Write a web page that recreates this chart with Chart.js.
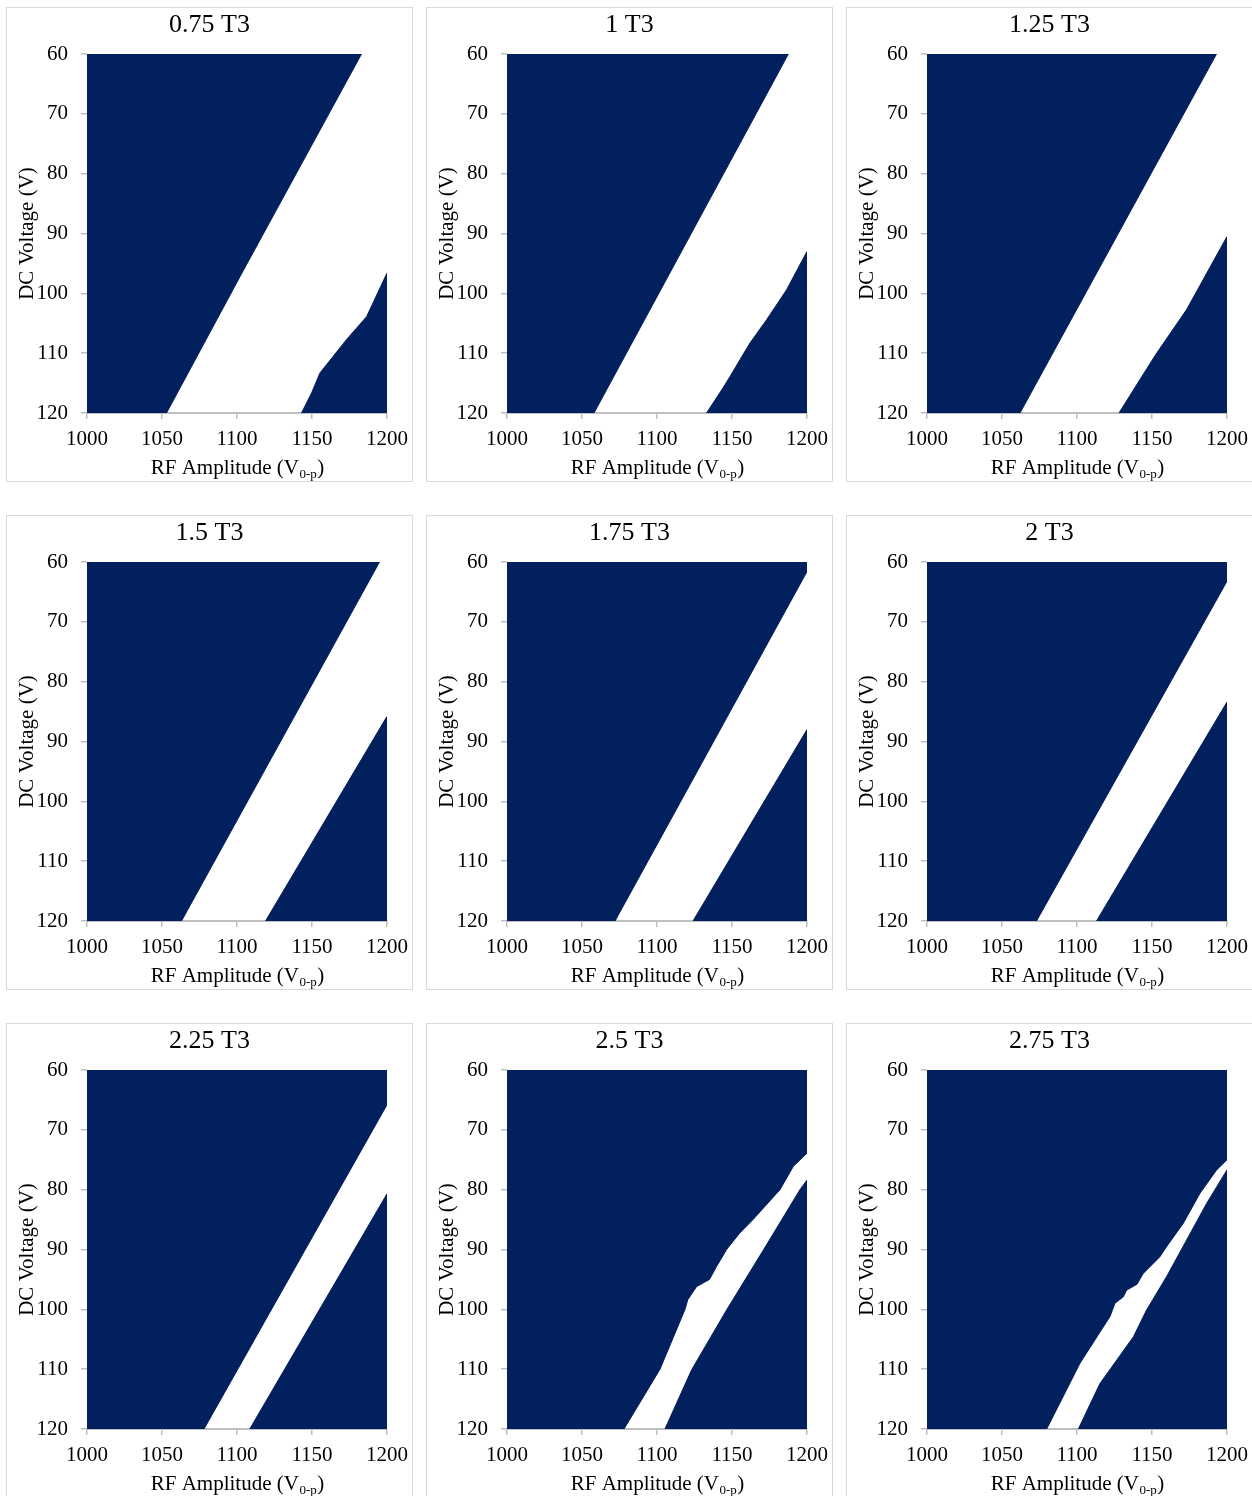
<!DOCTYPE html>
<html>
<head>
<meta charset="utf-8">
<script src="https://cdn.jsdelivr.net/npm/chart.js@4/dist/chart.umd.min.js"></script>
<style>
html,body{margin:0;padding:0;background:#fff;}
body{width:1252px;height:1496px;position:relative;overflow:hidden;}
.panel{position:absolute;width:405px;height:473px;outline:1px solid #d9d9d9;background:#fff;}
canvas{display:block;}
</style>
</head>
<body>
<script>
// ---------- data ----------
const panelTitles = ['0.75 T3','1 T3','1.25 T3','1.5 T3','1.75 T3','2 T3','2.25 T3','2.5 T3','2.75 T3'];
const xTickValues = [1000, 1050, 1100, 1150, 1200];
const yTickValues = [60, 70, 80, 90, 100, 110, 120];
const xAxisTitle = 'RF Amplitude (V';
const xAxisSub = '0-p';
const yAxisTitle = 'DC Voltage (V)';

// Edge of the upper-left unstable (navy) region: [RF amplitude, DC voltage]
const upper_0_75 = [[1000,120],[1053,120],[1102,97.2],[1183,60]];
const upper_1_00 = [[1000,120],[1058,120],[1187.6,60]];
const upper_1_25 = [[1000,120],[1062,120],[1193,60]];
const upper_1_50 = [[1000,120],[1063,120],[1195,60]];
const upper_1_75 = [[1000,120],[1072,120],[1200,61.6]];
const upper_2_00 = [[1000,120],[1073,120],[1200,63.2]];
const upper_2_25 = [[1000,120],[1078,120],[1200,65.8]];
const upper_2_50 = [[1000,120],[1078,120],[1102,110],[1118.7,100],[1120.5,98.4],[1126.4,96.2],[1135,95],[1139.8,92.8],[1146.4,90],[1155,87.3],[1164,85],[1182,80],[1190.9,76.1],[1200,73.9]];
const upper_2_75 = [[1000,120],[1079.8,120],[1102,109],[1122,101.2],[1125.3,99],[1130.9,97.9],[1133.1,96.8],[1140,95.8],[1144.2,94.0],[1155.3,91.2],[1159.8,89.5],[1170.9,85.6],[1182,80.6],[1193.1,76.7],[1200,75.0]];

// Edge of the lower-right unstable (navy) region: [RF amplitude, DC voltage]
const lower_0_75 = [[1143,120],[1149.8,116.6],[1155.3,113.3],[1164.2,110.5],[1173.1,107.7],[1186.4,103.9],[1200,96.6]];
const lower_1_00 = [[1133,120],[1143,116.2],[1148.7,113.9],[1155.3,111.1],[1162,108.3],[1173.1,104.4],[1186.4,99.4],[1200,93.0]];
const lower_1_25 = [[1128,120],[1142,114.4],[1153.1,110],[1173.1,102.7],[1200,90.5]];
const lower_1_50 = [[1119,120],[1200,85.8]];
const lower_1_75 = [[1124,120],[1200,88.0]];
const lower_2_00 = [[1113,120],[1200,83.4]];
const lower_2_25 = [[1108.5,120],[1200,80.7]];
const lower_2_50 = [[1105.3,120],[1123.1,110.1],[1146.4,100.1],[1170.9,90.1],[1195.3,80],[1200,78.4]];
const lower_2_75 = [[1100.9,120],[1115.3,112.4],[1137.6,104.6],[1146.4,100.1],[1159.8,94.5],[1173.1,88.4],[1186.4,82.3],[1200,76.7]];

const upperEdges = [upper_0_75, upper_1_00, upper_1_25, upper_1_50, upper_1_75, upper_2_00, upper_2_25, upper_2_50, upper_2_75];
const lowerEdges = [lower_0_75, lower_1_00, lower_1_25, lower_1_50, lower_1_75, lower_2_00, lower_2_25, lower_2_50, lower_2_75];

// ---------- styling ----------
const NAVY = '#021f5e';
const AXIS_GREY = '#bfbfbf';
const SERIF = "'Liberation Serif', 'Times New Roman', serif";
Chart.defaults.font.family = SERIF;
Chart.defaults.color = '#000';

const toPts = arr => arr.map(([x, y]) => ({x, y}));

const xTitlePlugin = {
  id: 'xTitleSub',
  afterDraw(chart) {
    const {ctx, chartArea} = chart;
    const cx = (chartArea.left + chartArea.right) / 2;
    const base = chartArea.bottom + 61;
    const f1 = "21px " + SERIF, f2 = "13px " + SERIF;
    ctx.save();
    ctx.fillStyle = '#000';
    ctx.textAlign = 'left';
    ctx.textBaseline = 'alphabetic';
    ctx.font = f1;
    const w1 = ctx.measureText(xAxisTitle).width;
    const w3 = ctx.measureText(')').width;
    ctx.font = f2;
    const w2 = ctx.measureText(xAxisSub).width;
    let x = cx - (w1 + w2 + w3) / 2;
    ctx.font = f1; ctx.fillText(xAxisTitle, x, base); x += w1;
    ctx.font = f2; ctx.fillText(xAxisSub, x + 0.5, base + 4); x += w2 + 1;
    ctx.font = f1; ctx.fillText(')', x, base);
    ctx.restore();
  }
};

panelTitles.forEach((title, i) => {
  const r = Math.floor(i / 3), c = i % 3;
  const div = document.createElement('div');
  div.className = 'panel';
  div.style.left = (7 + 420 * c) + 'px';
  div.style.top = (8 + 508 * r) + 'px';
  const cv = document.createElement('canvas');
  cv.width = 405; cv.height = 473;
  div.appendChild(cv);
  document.body.appendChild(div);

  const ds = (label, pts, target) => ({
    label, data: toPts(pts), fill: {value: target},
    backgroundColor: NAVY, borderColor: NAVY, borderWidth: 1,
    pointRadius: 0, pointHoverRadius: 0, tension: 0
  });

  new Chart(cv, {
    type: 'line',
    data: { datasets: [ ds('upper unstable', upperEdges[i], 60), ds('lower unstable', lowerEdges[i], 120) ] },
    options: {
      responsive: false, animation: false, devicePixelRatio: 1,
      layout: { padding: 0 },
      plugins: {
        legend: { display: false },
        tooltip: { enabled: false },
        title: { display: true, text: title, color: '#000',
                 font: { size: 26, weight: 'normal', family: SERIF },
                 padding: { top: 2, bottom: 12.8 } }
      },
      scales: {
        x: {
          type: 'linear', min: xTickValues[0], max: xTickValues[xTickValues.length - 1], z: 1,
          afterBuildTicks: s => { s.ticks = xTickValues.map(v => ({ value: v })); },
          ticks: { color: '#000', font: { size: 21, family: SERIF }, padding: 8, maxRotation: 0, autoSkip: false,
                   callback: v => String(v) },
          grid: { drawOnChartArea: false, tickLength: 6, color: AXIS_GREY, lineWidth: 1.5 },
          border: { color: AXIS_GREY, width: 2 },
          title: { display: false },
          afterFit: s => { s.height = 68; s.paddingLeft = 0; s.paddingRight = 0; }
        },
        y: {
          type: 'linear', min: yTickValues[0], max: yTickValues[yTickValues.length - 1], reverse: true,
          afterBuildTicks: s => { s.ticks = yTickValues.map(v => ({ value: v })); },
          ticks: { color: '#000', font: { size: 21, family: SERIF }, padding: 13, autoSkip: false,
                   callback: v => String(v) },
          grid: { drawOnChartArea: false, tickLength: 6, color: AXIS_GREY, lineWidth: 1.5 },
          border: { color: AXIS_GREY, width: 1 },
          title: { display: true, text: yAxisTitle, color: '#000', font: { size: 21, family: SERIF }, padding: { top: 8, bottom: 0 } },
          afterFit: s => { s.width = 80; s.paddingTop = 0; s.paddingBottom = 0; }
        },
        yRightSpace: {
          type: 'linear', position: 'right', display: true, min: 60, max: 120,
          ticks: { display: false },
          grid: { display: false, drawTicks: false },
          border: { display: false },
          afterFit: s => { s.width = 25; s.paddingTop = 0; s.paddingBottom = 0; }
        }
      }
    },
    plugins: [xTitlePlugin]
  });
});
</script>
</body>
</html>
